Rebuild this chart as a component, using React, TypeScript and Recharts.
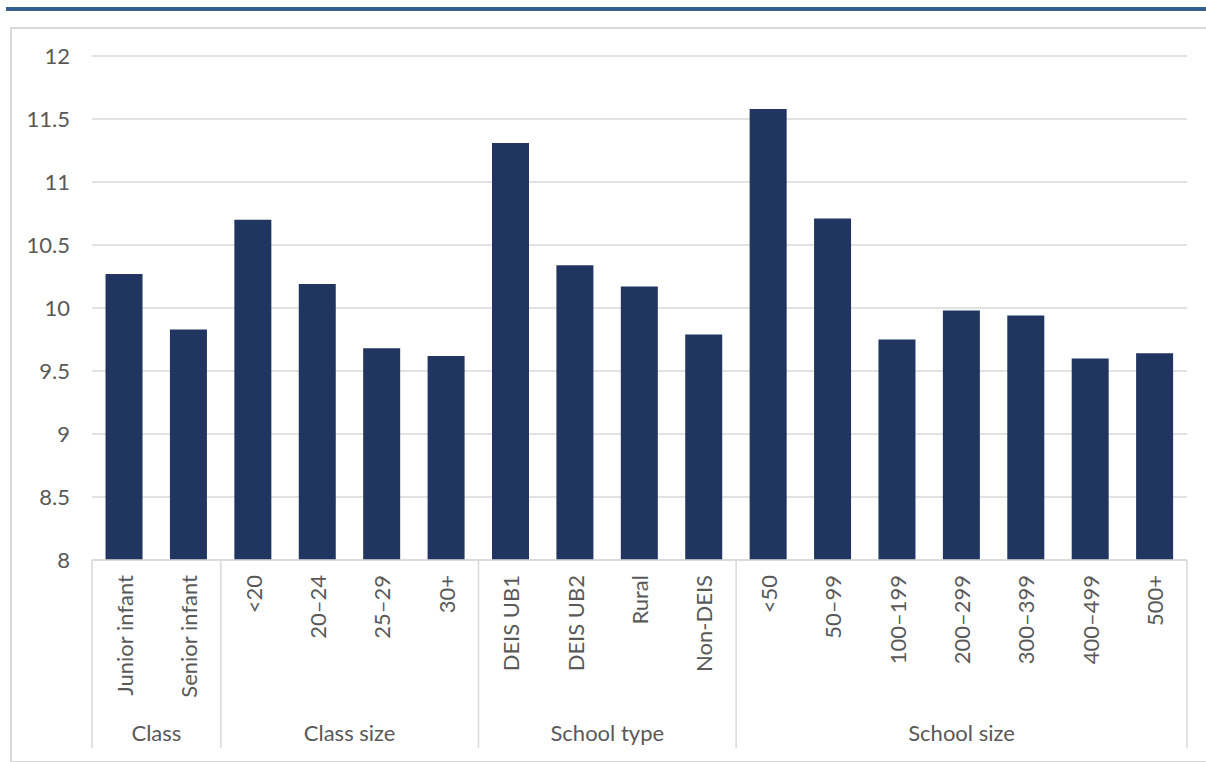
import { BarChart, Bar, XAxis, YAxis, CartesianGrid } from "recharts";

const categories = [
  "Junior infant", "Senior infant",
  "<20", "20–24", "25–29", "30+",
  "DEIS UB1", "DEIS UB2", "Rural", "Non-DEIS",
  "<50", "50–99", "100–199", "200–299", "300–399", "400–499", "500+",
];
const values = [
  10.27, 9.83,
  10.7, 10.19, 9.68, 9.62,
  11.31, 10.34, 10.17, 9.79,
  11.58, 10.71, 9.75, 9.98, 9.94, 9.6, 9.64,
];
const groupNames = ["Class", "Class size", "School type", "School size"];
const groupSizes = [2, 4, 4, 7];
const yTicks = [8, 8.5, 9, 9.5, 10, 10.5, 11, 11.5, 12];

const data = categories.map((c, i) => ({ name: c, value: values[i] }));

// index where each group starts
const groupStarts: number[] = [];
groupSizes.reduce((acc, n) => {
  groupStarts.push(acc);
  return acc + n;
}, 0);

const W = 1206;
const H = 762;
const LEFT = 92;
const RIGHT = 19;
const TOP = 56;
const BOTTOM = 202;
const slot = (W - LEFT - RIGHT) / categories.length;
const textColor = "#595959";
const font = "Lato, 'Open Sans', sans-serif";
const fs = 22;

function CategoryTick(props: any) {
  const { x, y, payload, index } = props;
  const g = groupStarts.indexOf(index);
  const last = index === categories.length - 1;
  return (
    <g>
      <text
        x={x}
        y={y + 15}
        transform={`rotate(-90, ${x}, ${y + 15})`}
        textAnchor="end"
        dominantBaseline="central"
        fill={textColor}
        fontSize={fs}
        fontFamily={font}
      >
        {payload.value}
      </text>
      {g >= 0 && (
        <>
          <line x1={x - slot / 2} x2={x - slot / 2} y1={y} y2={y + 188} stroke="#d9d9d9" strokeWidth={1.5} />
          <text
            x={x - slot / 2 + (groupSizes[g] * slot) / 2}
            y={y + 172}
            textAnchor="middle"
            dominantBaseline="central"
            fill={textColor}
            fontSize={fs}
            fontFamily={font}
          >
            {groupNames[g]}
          </text>
        </>
      )}
      {last && (
        <line x1={x + slot / 2} x2={x + slot / 2} y1={y} y2={y + 188} stroke="#d9d9d9" strokeWidth={1.5} />
      )}
    </g>
  );
}

export default function App() {
  return (
    <div style={{ position: "absolute", left: 0, top: 0, width: W, height: H, background: "#fff", overflow: "hidden" }}>
      <div style={{ position: "absolute", left: 6, top: 7, width: 1200, height: 4, background: "#35608f" }} />
      <div
        style={{
          position: "absolute",
          left: 10,
          top: 27,
          width: 1210,
          height: 732,
          border: "2px solid #d9d9d9",
        }}
      />
      <div style={{ position: "absolute", left: 0, top: 0 }}>
        <BarChart
          width={W}
          height={H}
          data={data}
          margin={{ top: TOP, right: RIGHT, bottom: 0, left: 0 }}
          barCategoryGap="21%"
        >
          <CartesianGrid vertical={false} stroke="#d9d9d9" strokeWidth={1.5} />
          <XAxis
            dataKey="name"
            interval={0}
            height={BOTTOM}
            tickLine={false}
            tickSize={0}
            tickMargin={0}
            axisLine={{ stroke: "#d9d9d9", strokeWidth: 1.5 }}
            tick={<CategoryTick />}
          />
          <YAxis
            width={LEFT}
            domain={[8, 12]}
            ticks={yTicks}
            axisLine={false}
            tickLine={false}
            tickSize={0}
            tickMargin={22}
            tick={{ fill: textColor, fontSize: fs, fontFamily: font }}
          />
          <Bar dataKey="value" fill="#203560" isAnimationActive={false} />
        </BarChart>
      </div>
    </div>
  );
}
